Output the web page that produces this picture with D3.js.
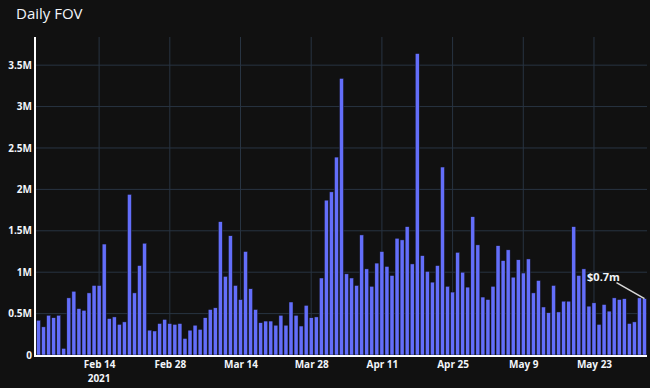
<!DOCTYPE html>
<html>
<head>
<meta charset="utf-8">
<script src="https://cdn.jsdelivr.net/npm/d3@7/dist/d3.min.js"></script>
<style>
  html, body { margin: 0; padding: 0; background: #111111; }
  svg { display: block; }
  text { font-family: "Open Sans", sans-serif; fill: #f2f5fa; }
</style>
</head>
<body>
<svg id="chart" width="650" height="388"></svg>
<script>
// ---- data ----
const title = "Daily FOV";
const startDate = "2021-02-02";
// daily FOV values in millions, one per day starting at startDate
const fovMillions = [
  0.42, 0.34, 0.48, 0.45, 0.48, 0.08, 0.69, 0.77, 0.56, 0.54, 0.75, 0.84, 0.84, 1.34, 0.44, 0.46, 0.37, 0.40, 1.94, 0.75,
  1.08, 1.35, 0.30, 0.29, 0.38, 0.43, 0.38, 0.37, 0.38, 0.20, 0.30, 0.36, 0.31, 0.45, 0.55, 0.57, 1.61, 0.95, 1.44, 0.84,
  0.67, 1.25, 0.80, 0.55, 0.39, 0.41, 0.41, 0.36, 0.48, 0.36, 0.64, 0.48, 0.35, 0.60, 0.45, 0.46, 0.93, 1.87, 1.97,
  2.39, 3.34, 0.98, 0.93, 0.84, 1.45, 1.04, 0.83, 1.11, 1.25, 1.07, 0.96, 1.41, 1.39, 1.55, 1.10, 3.64, 1.20, 1.01, 0.88,
  1.08, 2.27, 0.83, 0.76, 1.24, 1.00, 0.82, 1.67, 1.33, 0.70, 0.67, 0.83, 1.32, 1.14, 1.27, 0.94, 1.15, 0.99, 1.16, 0.75,
  0.90, 0.58, 0.51, 0.84, 0.52, 0.65, 0.65, 1.55, 0.96, 1.04, 0.59, 0.63, 0.37, 0.61, 0.53, 0.69, 0.67, 0.68, 0.38, 0.40, 0.69, 0.68
];
const xTickDates = ["2021-02-14","2021-02-28","2021-03-14","2021-03-28","2021-04-11","2021-04-25","2021-05-09","2021-05-23"];
const xTickLabels = ["Feb 14","Feb 28","Mar 14","Mar 28","Apr 11","Apr 25","May 9","May 23"];
const xYearLabel = "2021";
const yTickValues = [0, 0.5, 1, 1.5, 2, 2.5, 3, 3.5];
const yTickLabels = ["0","0.5M","1M","1.5M","2M","2.5M","3M","3.5M"];
const annotationText = "$0.7m";

// ---- layout ----
const W = 650, H = 388;
const plot = { left: 36, right: 647, top: 37, bottom: 355 };
const parse = d3.utcParse("%Y-%m-%d");
const t0 = parse(startDate);
const data = fovMillions.map((v, i) => ({ date: d3.utcDay.offset(t0, i), value: v }));
const halfDay = 12 * 3600 * 1000;

const x = d3.scaleUtc()
  .domain([new Date(data[0].date.getTime() - halfDay), new Date(data[data.length - 1].date.getTime() + halfDay)])
  .range([plot.left, plot.right]);
const y = d3.scaleLinear().domain([0, 3.84]).range([plot.bottom, plot.top]);
const dayW = x(d3.utcDay.offset(t0, 1)) - x(t0);
const barW = dayW * 0.8;

const svg = d3.select("#chart");
svg.append("rect").attr("width", W).attr("height", H).attr("fill", "#111111");

// gridlines
const grid = svg.append("g");
grid.selectAll("line.v").data(xTickDates.map(parse)).join("line")
  .attr("x1", d => x(d)).attr("x2", d => x(d))
  .attr("y1", plot.top).attr("y2", plot.bottom)
  .attr("stroke", "#283442").attr("stroke-width", 1);
grid.selectAll("line.h").data(yTickValues.filter(v => v > 0)).join("line")
  .attr("x1", plot.left).attr("x2", plot.right)
  .attr("y1", d => y(d)).attr("y2", d => y(d))
  .attr("stroke", "#283442").attr("stroke-width", 1);

// bars
svg.append("g").selectAll("rect").data(data).join("rect")
  .attr("x", d => x(d.date) - barW / 2)
  .attr("width", barW)
  .attr("y", d => y(d.value))
  .attr("height", d => y(0) - y(d.value))
  .attr("fill", "#636efa")
  .attr("stroke", "#111111")
  .attr("stroke-width", 0.5);

// axis lines
svg.append("line").attr("x1", plot.left - 1).attr("x2", plot.right)
  .attr("y1", plot.bottom + 1).attr("y2", plot.bottom + 1)
  .attr("stroke", "#ffffff").attr("stroke-width", 2);
svg.append("line").attr("x1", plot.left - 1).attr("x2", plot.left - 1)
  .attr("y1", plot.top).attr("y2", plot.bottom + 2)
  .attr("stroke", "#ffffff").attr("stroke-width", 2);

// y axis
const yAxis = d3.axisLeft(y).tickValues(yTickValues)
  .tickFormat((d, i) => yTickLabels[i]).tickSize(0).tickPadding(3);
const gy = svg.append("g").attr("transform", `translate(${plot.left - 1},0)`).call(yAxis);
gy.select(".domain").remove();
gy.selectAll("text").style("font-family", '"Open Sans", sans-serif')
  .style("font-size", "10px").style("font-weight", "700").attr("fill", "#f2f5fa");

// x axis
const xAxis = d3.axisBottom(x).tickValues(xTickDates.map(parse))
  .tickFormat((d, i) => xTickLabels[i]).tickSize(0).tickPadding(4.5);
const gx = svg.append("g").attr("transform", `translate(0,${plot.bottom + 1})`).call(xAxis);
gx.select(".domain").remove();
gx.selectAll("text").style("font-family", '"Open Sans", sans-serif')
  .style("font-size", "10px").style("font-weight", "700").attr("fill", "#f2f5fa");
svg.append("text")
  .attr("x", x(parse(xTickDates[0]))).attr("y", 381.5)
  .attr("text-anchor", "middle")
  .style("font-size", "10px").style("font-weight", "700")
  .text(xYearLabel);

// title
svg.append("text").attr("x", 16).attr("y", 19)
  .style("font-size", "15px")
  .text(title);

// annotation at last bar
const last = data[data.length - 1];
const hx = x(last.date), hy = y(last.value);
const tx = hx - 41, ty = hy - 22;
svg.append("line")
  .attr("x1", tx + 13).attr("y1", ty + 6)
  .attr("x2", hx).attr("y2", hy)
  .attr("stroke", "#d9d9d9").attr("stroke-width", 1.5);
svg.append("text").attr("x", tx).attr("y", ty + 4)
  .attr("text-anchor", "middle")
  .style("font-size", "11px").style("font-weight", "700")
  .text(annotationText);
</script>
</body>
</html>
